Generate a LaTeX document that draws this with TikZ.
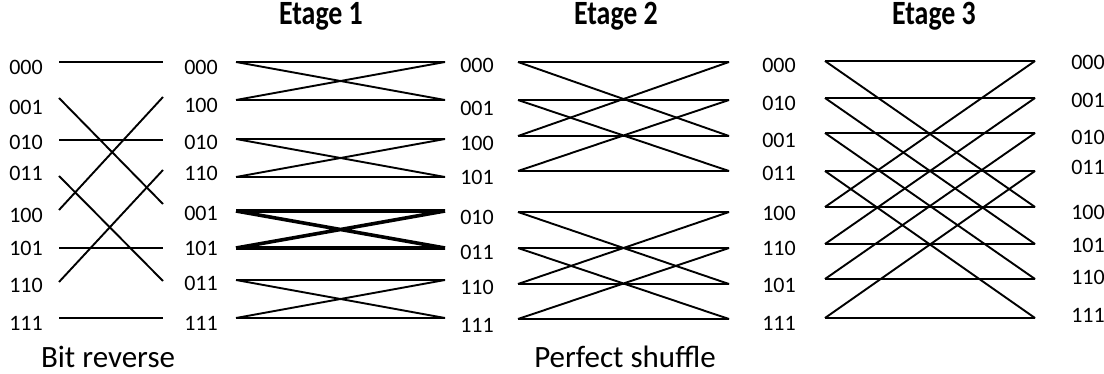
\documentclass[tikz,border=0pt]{standalone}
\usepackage{fontspec}
\setmainfont{Carlito}
\usetikzlibrary{positioning}

\begin{document}
\begin{tikzpicture}[x=1pt, y=-1pt,
    lbl/.style={inner sep=0pt, font=\fontsize{22}{22}\selectfont},
    title/.style={inner sep=0pt, anchor=base, xscale=0.82, font=\fontsize{34}{34}\selectfont\bfseries},
    caption/.style={inner sep=0pt, anchor=base, font=\fontsize{31}{31}\selectfont},
    wire/.style={draw=black, line width=1.9pt},
    heavy/.style={draw=black, line width=3.6pt}
  ]
    \useasboundingbox (0,0) rectangle (1104,374);

    % titles
    \node[title] (t1) at (321,25) {Etage 1};
    \node[title] (t2) at (616,25) {Etage 2};
    \node[title] (t3) at (934,25) {Etage 3};

    % labels of each column
    \foreach \lab/\y [count=\i from 0] in {000/67,001/107,010/142,011/173,100/215,101/248,110/285,111/323}
      \node[lbl] (ca\i) at (26,\y) {\lab};
    \foreach \lab/\y [count=\i from 0] in {000/67,100/105,010/142,110/173,001/213,101/248,011/283,111/323}
      \node[lbl] (cb\i) at (201,\y) {\lab};
    \foreach \lab/\y [count=\i from 0] in {000/65,001/108,100/143,101/177,010/217,011/252,110/287,111/325}
      \node[lbl] (cc\i) at (477,\y) {\lab};
    \foreach \lab/\y [count=\i from 0] in {000/65,010/103,001/140,011/173,100/213,110/248,101/285,111/323}
      \node[lbl] (cd\i) at (779,\y) {\lab};
    \foreach \lab/\y [count=\i from 0] in {000/62,001/100,010/137,011/167,100/212,101/245,110/277,111/315}
      \node[lbl] (ce\i) at (1088,\y) {\lab};

    % ports of the wires
    \foreach \yl/\yr [count=\i from 0] in {62/62,98/97,140/140,176/170,210/204,248/248,282/281,318/318} {
      \coordinate (brL\i) at (59,\yl);
      \coordinate (brR\i) at (163,\yr);
    }
    \foreach \y [count=\i from 0] in {62,100,139,177,211,248,280,318} {
      \coordinate (eaL\i) at (236,\y);
      \coordinate (eaR\i) at (445,\y);
    }
    \foreach \y [count=\i from 0] in {62,100,136,171,212,248,284,319} {
      \coordinate (ebL\i) at (518,\y);
      \coordinate (ebR\i) at (729,\y);
    }
    \foreach \y [count=\i from 0] in {61,98,133,171,207,244,279,318} {
      \coordinate (ecL\i) at (825,\y);
      \coordinate (ecR\i) at (1035,\y);
    }

    % bit reverse
    \foreach \i/\j in {0/0,1/4,2/2,3/6,4/1,5/5,6/3,7/7}
      \draw[wire] (brL\i) -- (brR\j);

    % etage 1
    \foreach \i/\j/\s in {0/1/wire,2/3/wire,4/5/heavy,6/7/wire}
      \draw[\s] (eaL\i) -- (eaR\i) (eaL\j) -- (eaR\j) (eaL\i) -- (eaR\j) (eaL\j) -- (eaR\i);

    % etage 2
    \foreach \i/\j in {0/2,1/3,4/6,5/7}
      \draw[wire] (ebL\i) -- (ebR\i) (ebL\j) -- (ebR\j) (ebL\i) -- (ebR\j) (ebL\j) -- (ebR\i);

    % etage 3
    \foreach \i/\j in {0/4,1/5,2/6,3/7}
      \draw[wire] (ecL\i) -- (ecR\i) (ecL\j) -- (ecR\j) (ecL\i) -- (ecR\j) (ecL\j) -- (ecR\i);

    % captions
    \node[caption] (bitrev) at (108,367) {Bit reverse};
    \node[caption] (shuffle) at (625,367) {Perfect shuffle};
  \end{tikzpicture}
\end{document}
